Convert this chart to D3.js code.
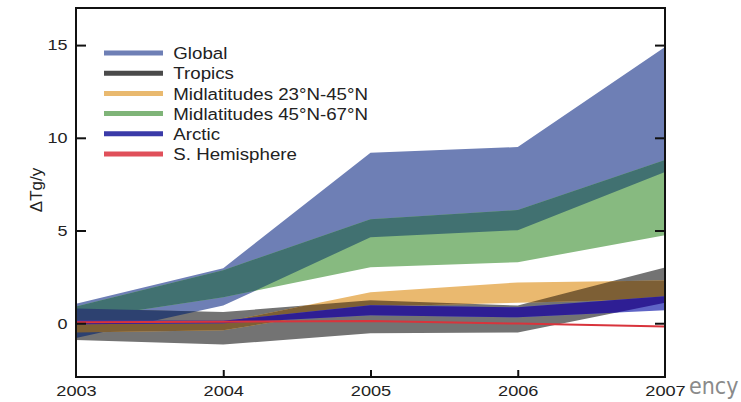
<!DOCTYPE html>
<html>
<head>
<meta charset="utf-8">
<script src="https://cdn.jsdelivr.net/npm/d3@7"></script>
<style>
  body { margin: 0; background: #fff; }
  svg { display: block; font-family: "Liberation Sans", Arial, sans-serif; }
</style>
</head>
<body>
<script>
// years on the x axis
var years = [2003, 2004, 2005, 2006, 2007];

// upper / lower edges of each band (Tg/y)
var globalHi  = [1.05, 2.97, 9.2, 9.5, 14.9];
var globalLo  = [-0.8, 0.95, 4.64, 5.02, 8.15];
var mid4567Hi = [0.9, 2.86, 5.61, 6.1, 8.8];
var mid4567Lo = [0.2, 1.4, 3.02, 3.29, 4.75];
var tropicsHi = [0.8, 0.6, 1.24, 0.95, 3.0];
var tropicsLo = [-0.9, -1.15, -0.54, -0.5, 1.1];
var mid2345Hi = [0.05, 0.05, 1.67, 2.2, 2.3];
var mid2345Lo = [-0.5, -0.38, 0.9, 1.1, 1.3];
var arcticHi  = [0.15, 0.14, 0.97, 0.86, 1.45];
var arcticLo  = [-0.05, 0.0, 0.43, 0.32, 0.7];
var sHemi     = [0.05, 0.08, 0.12, -0.02, -0.17];

var yTicks = [0, 5, 10, 15];
var xTicks = [2003, 2004, 2005, 2006, 2007];

var legendNames = ["Global", "Tropics", "Midlatitudes 23°N-45°N", "Midlatitudes 45°N-67°N", "Arctic", "S. Hemisphere"];
var legendColors = ["#6e7fb5", "#4a4a4a", "#e9b96f", "#7fb478", "#3a3aa8", "#e0505a"];

var W = 741, H = 402;
var margin = {top: 8, left: 76},
    width = 665 - margin.left,
    height = 377 - margin.top;

var svg = d3.select("body").append("svg")
    .attr("width", W)
    .attr("height", H);

var defs = svg.append("defs");

var g = svg.append("g")
    .attr("transform", "translate(" + margin.left + "," + margin.top + ")");

var x = d3.scaleLinear().domain([2003, 2007]).range([0, width]);
var y = d3.scaleLinear().domain([-2.9, 17.0]).range([height, 0]);

function band(hi, lo) {
  return years.map(function(yr, i) { return {yr: yr, hi: hi[i], lo: lo[i]}; });
}

var area = d3.area()
    .x(function(d) { return x(d.yr); })
    .y0(function(d) { return y(d.lo); })
    .y1(function(d) { return y(d.hi); });

var paths = {
  global:  area(band(globalHi, globalLo)),
  mid4567: area(band(mid4567Hi, mid4567Lo)),
  tropics: area(band(tropicsHi, tropicsLo)),
  mid2345: area(band(mid2345Hi, mid2345Lo)),
  arctic:  area(band(arcticHi, arcticLo))
};

// clip paths so overlaps get their own mixed colour
["global", "tropics"].forEach(function(k) {
  defs.append("clipPath").attr("id", "clip-" + k)
    .append("path").attr("d", paths[k]);
});

var plot = g.append("g");

// plain bands
plot.append("path").attr("d", paths.global).attr("fill", "#6e7fb5");
plot.append("path").attr("d", paths.mid4567).attr("fill", "#87ba80");
plot.append("path").attr("d", paths.tropics).attr("fill", "#737373");
plot.append("path").attr("d", paths.mid2345).attr("fill", "#eab96f");

// overlaps
plot.append("path").attr("d", paths.mid4567).attr("fill", "#417171")
    .attr("clip-path", "url(#clip-global)");
plot.append("path").attr("d", paths.tropics).attr("fill", "#2d4170")
    .attr("clip-path", "url(#clip-global)");
plot.append("path").attr("d", paths.mid2345).attr("fill", "#7d5f35")
    .attr("clip-path", "url(#clip-tropics)");

// arctic: light where alone, dark over the tropics band
plot.append("path").attr("d", paths.arctic).attr("fill", "#5f64c6");
plot.append("path").attr("d", paths.arctic).attr("fill", "#2e1e94")
    .attr("clip-path", "url(#clip-tropics)");

// southern hemisphere is just a line
var line = d3.line()
    .x(function(d, i) { return x(years[i]); })
    .y(function(d) { return y(d); });

plot.append("path")
    .attr("d", line(sHemi))
    .attr("fill", "none")
    .attr("stroke", "#d8343c")
    .attr("stroke-width", 2);

// frame
g.append("rect")
    .attr("width", width)
    .attr("height", height)
    .attr("fill", "none")
    .attr("stroke", "#111")
    .attr("stroke-width", 2);

// axes, ticks point inwards
var yAxis = g.append("g")
    .call(d3.axisLeft(y).tickValues(yTicks).tickSize(-10).tickPadding(18).tickFormat(d3.format("d")));
yAxis.select(".domain").remove();
yAxis.selectAll("line").attr("stroke", "#111").attr("stroke-width", 2);
yAxis.selectAll("text")
    .style("font-size", "15px")
    .attr("fill", "#222")
    .attr("transform", "scale(1.2,1)")
    .attr("x", -7);

var yAxisR = g.append("g")
    .attr("transform", "translate(" + width + ",0)")
    .call(d3.axisRight(y).tickValues(yTicks).tickSize(-10).tickFormat(""));
yAxisR.select(".domain").remove();
yAxisR.selectAll("line").attr("stroke", "#111").attr("stroke-width", 2);

var xAxis = g.append("g")
    .attr("transform", "translate(0," + height + ")")
    .call(d3.axisBottom(x).tickValues(xTicks).tickSize(-7).tickPadding(9).tickFormat(d3.format("d")));
xAxis.select(".domain").remove();
xAxis.selectAll("line").attr("stroke", "#111").attr("stroke-width", 2)
    .attr("opacity", function(d) { return (d === 2003 || d === 2007) ? 0 : 1; });
xAxis.selectAll("text")
    .style("font-size", "14px")
    .attr("fill", "#222")
    .attr("transform", "scale(1.3,1)");

// y axis title
svg.append("text")
    .attr("transform", "translate(42,190) rotate(-90)")
    .attr("text-anchor", "middle")
    .style("font-size", "17px")
    .attr("fill", "#222")
    .text("ΔTg/y");

// legend
var legend = svg.append("g").attr("transform", "translate(104,53)");
var item = legend.selectAll(".item")
  .data(legendNames)
  .enter().append("g")
    .attr("class", "item")
    .attr("transform", function(d, i) { return "translate(0," + (i * 20.2) + ")"; });

item.append("line")
    .attr("x1", 0).attr("x2", 59)
    .attr("stroke", function(d, i) { return legendColors[i]; })
    .attr("stroke-width", 5);

item.append("text")
    .attr("x", 63)
    .attr("dy", "0.36em")
    .attr("transform", "scale(1.1,1)")
    .style("font-size", "17px")
    .attr("fill", "#222")
    .text(function(d) { return d; });

// leftover text at bottom right of the source image
svg.append("text")
    .attr("x", 689)
    .attr("y", 394)
    .style("font-family", "'Liberation Sans Narrow', 'DejaVu Sans Condensed', sans-serif")
    .style("font-size", "23px")
    .attr("fill", "#8a8a8a")
    .text("ency");
</script>
</body>
</html>
